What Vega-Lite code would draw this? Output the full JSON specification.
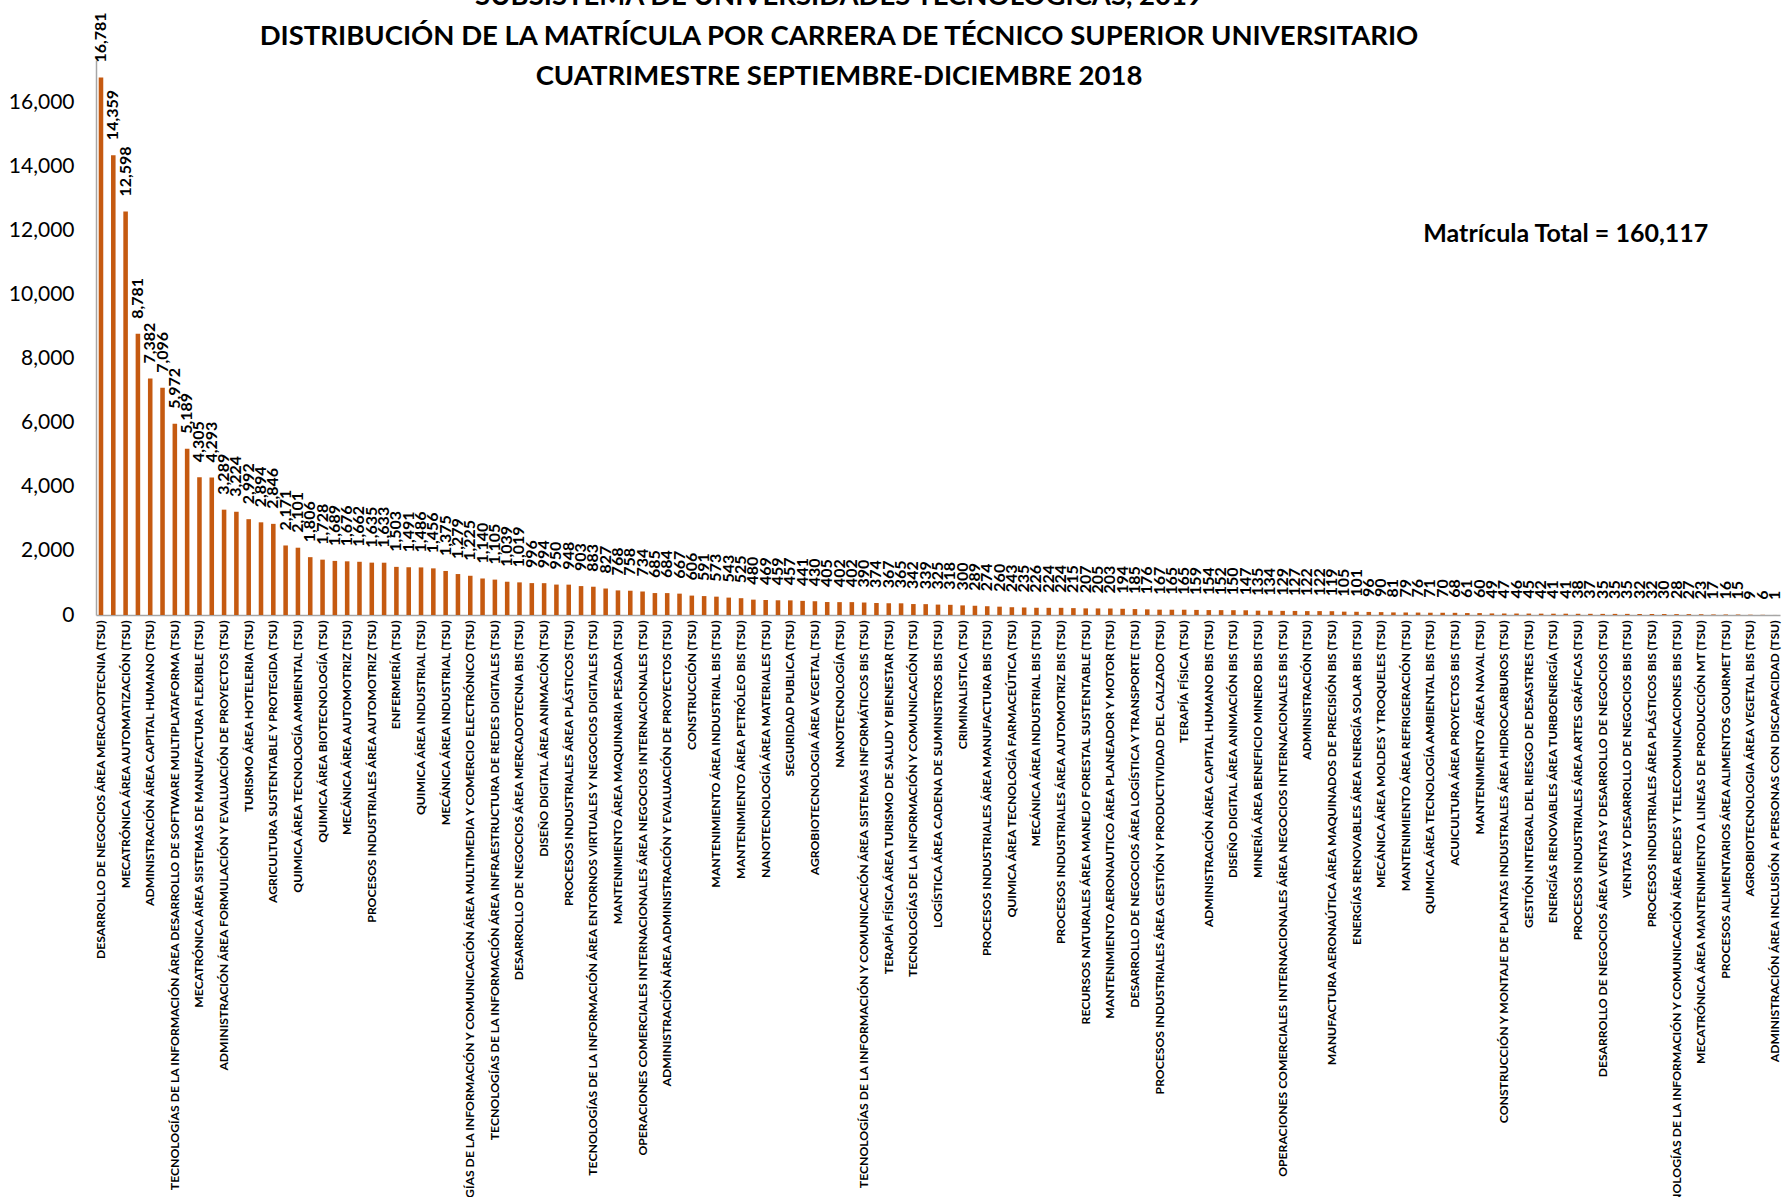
{
  "$schema": "https://vega.github.io/schema/vega-lite/v6.json",
  "width": 1684,
  "height": 555,
  "autosize": {"type": "none"},
  "padding": {"left": 96, "top": 60, "right": 8, "bottom": 582},
  "background": "white",
  "config": {"view": {"stroke": null}, "font": "Lato"},
  "title": {
    "text": ["SUBSISTEMA DE UNIVERSIDADES TECNOLÓGICAS, 2019", "DISTRIBUCIÓN DE LA MATRÍCULA POR CARRERA DE TÉCNICO SUPERIOR UNIVERSITARIO", "CUATRIMESTRE SEPTIEMBRE-DICIEMBRE 2018"],
    "font": "Lato",
    "fontSize": 27.5,
    "fontWeight": "bold",
    "color": "#000000",
    "lineHeight": 40,
    "anchor": "middle",
    "offset": 0,
    "dx": -99,
    "dy": 78
  },
  "data": {
    "values": [
      {"carrera": "DESARROLLO DE NEGOCIOS ÁREA MERCADOTECNIA (TSU)", "matricula": 16781},
      {"carrera": "s/e 002", "matricula": 14359},
      {"carrera": "MECATRÓNICA ÁREA AUTOMATIZACIÓN (TSU)", "matricula": 12598},
      {"carrera": "s/e 004", "matricula": 8781},
      {"carrera": "ADMINISTRACIÓN ÁREA CAPITAL HUMANO (TSU)", "matricula": 7382},
      {"carrera": "s/e 006", "matricula": 7096},
      {"carrera": "TECNOLOGÍAS DE LA INFORMACIÓN ÁREA DESARROLLO DE SOFTWARE MULTIPLATAFORMA (TSU)", "matricula": 5972},
      {"carrera": "s/e 008", "matricula": 5189},
      {"carrera": "MECATRÓNICA ÁREA SISTEMAS DE MANUFACTURA FLEXIBLE (TSU)", "matricula": 4305},
      {"carrera": "s/e 010", "matricula": 4293},
      {"carrera": "ADMINISTRACIÓN ÁREA FORMULACIÓN Y EVALUACIÓN DE PROYECTOS (TSU)", "matricula": 3289},
      {"carrera": "s/e 012", "matricula": 3224},
      {"carrera": "TURISMO ÁREA HOTELERIA (TSU)", "matricula": 2992},
      {"carrera": "s/e 014", "matricula": 2894},
      {"carrera": "AGRICULTURA SUSTENTABLE Y PROTEGIDA (TSU)", "matricula": 2846},
      {"carrera": "s/e 016", "matricula": 2171},
      {"carrera": "QUIMICA ÁREA TECNOLOGÍA AMBIENTAL (TSU)", "matricula": 2101},
      {"carrera": "s/e 018", "matricula": 1806},
      {"carrera": "QUIMICA ÁREA BIOTECNOLOGÍA (TSU)", "matricula": 1728},
      {"carrera": "s/e 020", "matricula": 1689},
      {"carrera": "MECÁNICA ÁREA AUTOMOTRIZ (TSU)", "matricula": 1676},
      {"carrera": "s/e 022", "matricula": 1662},
      {"carrera": "PROCESOS INDUSTRIALES ÁREA AUTOMOTRIZ (TSU)", "matricula": 1635},
      {"carrera": "s/e 024", "matricula": 1633},
      {"carrera": "ENFERMERÍA (TSU)", "matricula": 1503},
      {"carrera": "s/e 026", "matricula": 1491},
      {"carrera": "QUIMICA ÁREA INDUSTRIAL (TSU)", "matricula": 1486},
      {"carrera": "s/e 028", "matricula": 1456},
      {"carrera": "MECÁNICA ÁREA INDUSTRIAL (TSU)", "matricula": 1375},
      {"carrera": "s/e 030", "matricula": 1279},
      {"carrera": "TECNOLOGÍAS DE LA INFORMACIÓN Y COMUNICACIÓN ÁREA MULTIMEDIA Y COMERCIO ELECTRÓNICO (TSU)", "matricula": 1225},
      {"carrera": "s/e 032", "matricula": 1140},
      {"carrera": "TECNOLOGÍAS DE LA INFORMACIÓN ÁREA INFRAESTRUCTURA DE REDES DIGITALES (TSU)", "matricula": 1105},
      {"carrera": "s/e 034", "matricula": 1039},
      {"carrera": "DESARROLLO DE NEGOCIOS ÁREA MERCADOTECNIA BIS (TSU)", "matricula": 1019},
      {"carrera": "s/e 036", "matricula": 996},
      {"carrera": "DISEÑO DIGITAL ÁREA ANIMACIÓN (TSU)", "matricula": 994},
      {"carrera": "s/e 038", "matricula": 950},
      {"carrera": "PROCESOS INDUSTRIALES ÁREA PLÁSTICOS (TSU)", "matricula": 948},
      {"carrera": "s/e 040", "matricula": 903},
      {"carrera": "TECNOLOGÍAS DE LA INFORMACIÓN ÁREA ENTORNOS VIRTUALES Y NEGOCIOS DIGITALES (TSU)", "matricula": 883},
      {"carrera": "s/e 042", "matricula": 827},
      {"carrera": "MANTENIMIENTO ÁREA MAQUINARIA PESADA (TSU)", "matricula": 768},
      {"carrera": "s/e 044", "matricula": 758},
      {"carrera": "OPERACIONES COMERCIALES INTERNACIONALES ÁREA NEGOCIOS INTERNACIONALES (TSU)", "matricula": 734},
      {"carrera": "s/e 046", "matricula": 685},
      {"carrera": "ADMINISTRACIÓN ÁREA ADMINISTRACIÓN Y EVALUACIÓN DE PROYECTOS (TSU)", "matricula": 684},
      {"carrera": "s/e 048", "matricula": 667},
      {"carrera": "CONSTRUCCIÓN (TSU)", "matricula": 606},
      {"carrera": "s/e 050", "matricula": 591},
      {"carrera": "MANTENIMIENTO ÁREA INDUSTRIAL BIS (TSU)", "matricula": 573},
      {"carrera": "s/e 052", "matricula": 543},
      {"carrera": "MANTENIMIENTO ÁREA PETRÓLEO BIS (TSU)", "matricula": 525},
      {"carrera": "s/e 054", "matricula": 480},
      {"carrera": "NANOTECNOLOGÍA ÁREA MATERIALES (TSU)", "matricula": 469},
      {"carrera": "s/e 056", "matricula": 459},
      {"carrera": "SEGURIDAD PUBLICA (TSU)", "matricula": 457},
      {"carrera": "s/e 058", "matricula": 441},
      {"carrera": "AGROBIOTECNOLOGIA ÁREA VEGETAL (TSU)", "matricula": 430},
      {"carrera": "s/e 060", "matricula": 405},
      {"carrera": "NANOTECNOLOGÍA (TSU)", "matricula": 402},
      {"carrera": "s/e 062", "matricula": 402},
      {"carrera": "TECNOLOGÍAS DE LA INFORMACIÓN Y COMUNICACIÓN ÁREA SISTEMAS INFORMÁTICOS BIS (TSU)", "matricula": 390},
      {"carrera": "s/e 064", "matricula": 374},
      {"carrera": "TERAPÍA FÍSICA ÁREA TURISMO DE SALUD Y BIENESTAR (TSU)", "matricula": 367},
      {"carrera": "s/e 066", "matricula": 365},
      {"carrera": "TECNOLOGÍAS DE LA INFORMACIÓN Y COMUNICACIÓN (TSU)", "matricula": 342},
      {"carrera": "s/e 068", "matricula": 339},
      {"carrera": "LOGÍSTICA ÁREA CADENA DE SUMINISTROS BIS (TSU)", "matricula": 325},
      {"carrera": "s/e 070", "matricula": 318},
      {"carrera": "CRIMINALISTICA (TSU)", "matricula": 300},
      {"carrera": "s/e 072", "matricula": 289},
      {"carrera": "PROCESOS INDUSTRIALES ÁREA MANUFACTURA BIS (TSU)", "matricula": 274},
      {"carrera": "s/e 074", "matricula": 260},
      {"carrera": "QUIMICA ÁREA TECNOLOGÍA FARMACEÚTICA (TSU)", "matricula": 243},
      {"carrera": "s/e 076", "matricula": 235},
      {"carrera": "MECÁNICA ÁREA INDUSTRIAL BIS (TSU)", "matricula": 226},
      {"carrera": "s/e 078", "matricula": 224},
      {"carrera": "PROCESOS INDUSTRIALES ÁREA AUTOMOTRIZ BIS (TSU)", "matricula": 224},
      {"carrera": "s/e 080", "matricula": 215},
      {"carrera": "RECURSOS NATURALES ÁREA MANEJO FORESTAL SUSTENTABLE (TSU)", "matricula": 207},
      {"carrera": "s/e 082", "matricula": 205},
      {"carrera": "MANTENIMIENTO AERONAUTICO ÁREA PLANEADOR Y MOTOR (TSU)", "matricula": 203},
      {"carrera": "s/e 084", "matricula": 194},
      {"carrera": "DESARROLLO DE NEGOCIOS ÁREA LOGÍSTICA Y TRANSPORTE (TSU)", "matricula": 185},
      {"carrera": "s/e 086", "matricula": 176},
      {"carrera": "PROCESOS INDUSTRIALES ÁREA GESTIÓN Y PRODUCTIVIDAD DEL CALZADO (TSU)", "matricula": 167},
      {"carrera": "s/e 088", "matricula": 165},
      {"carrera": "TERAPÍA FÍSICA (TSU)", "matricula": 165},
      {"carrera": "s/e 090", "matricula": 159},
      {"carrera": "ADMINISTRACIÓN ÁREA CAPITAL HUMANO BIS (TSU)", "matricula": 154},
      {"carrera": "s/e 092", "matricula": 152},
      {"carrera": "DISEÑO DIGITAL ÁREA ANIMACIÓN BIS (TSU)", "matricula": 150},
      {"carrera": "s/e 094", "matricula": 147},
      {"carrera": "MINERÍA ÁREA BENEFICIO MINERO BIS (TSU)", "matricula": 135},
      {"carrera": "s/e 096", "matricula": 134},
      {"carrera": "OPERACIONES COMERCIALES INTERNACIONALES ÁREA NEGOCIOS INTERNACIONALES BIS (TSU)", "matricula": 129},
      {"carrera": "s/e 098", "matricula": 127},
      {"carrera": "ADMINISTRACIÓN (TSU)", "matricula": 122},
      {"carrera": "s/e 100", "matricula": 122},
      {"carrera": "MANUFACTURA AERONAÚTICA ÁREA MAQUINADOS DE PRECISIÓN BIS (TSU)", "matricula": 119},
      {"carrera": "s/e 102", "matricula": 105},
      {"carrera": "ENERGÍAS RENOVABLES ÁREA ENERGÍA SOLAR BIS (TSU)", "matricula": 101},
      {"carrera": "s/e 104", "matricula": 96},
      {"carrera": "MECÁNICA ÁREA MOLDES Y TROQUELES (TSU)", "matricula": 90},
      {"carrera": "s/e 106", "matricula": 81},
      {"carrera": "MANTENIMIENTO ÁREA REFRIGERACIÓN (TSU)", "matricula": 79},
      {"carrera": "s/e 108", "matricula": 76},
      {"carrera": "QUIMICA ÁREA TECNOLOGÍA AMBIENTAL BIS (TSU)", "matricula": 71},
      {"carrera": "s/e 110", "matricula": 70},
      {"carrera": "ACUICULTURA ÁREA PROYECTOS BIS (TSU)", "matricula": 68},
      {"carrera": "s/e 112", "matricula": 61},
      {"carrera": "MANTENIMIENTO ÁREA NAVAL (TSU)", "matricula": 60},
      {"carrera": "s/e 114", "matricula": 49},
      {"carrera": "CONSTRUCCIÓN Y MONTAJE DE PLANTAS INDUSTRALES ÁREA HIDROCARBUROS (TSU)", "matricula": 47},
      {"carrera": "s/e 116", "matricula": 46},
      {"carrera": "GESTIÓN INTEGRAL DEL RIESGO DE DESASTRES (TSU)", "matricula": 45},
      {"carrera": "s/e 118", "matricula": 42},
      {"carrera": "ENERGÍAS RENOVABLES ÁREA TURBOENERGÍA (TSU)", "matricula": 41},
      {"carrera": "s/e 120", "matricula": 41, "nota": "Matrícula Total = 160,117"},
      {"carrera": "PROCESOS INDUSTRIALES ÁREA ARTES GRÁFICAS (TSU)", "matricula": 38},
      {"carrera": "s/e 122", "matricula": 37},
      {"carrera": "DESARROLLO DE NEGOCIOS ÁREA VENTAS Y DESARROLLO DE NEGOCIOS (TSU)", "matricula": 35},
      {"carrera": "s/e 124", "matricula": 35},
      {"carrera": "VENTAS Y DESARROLLO DE NEGOCIOS BIS (TSU)", "matricula": 35},
      {"carrera": "s/e 126", "matricula": 32},
      {"carrera": "PROCESOS INDUSTRIALES ÁREA PLÁSTICOS BIS (TSU)", "matricula": 32},
      {"carrera": "s/e 128", "matricula": 30},
      {"carrera": "TECNOLOGÍAS DE LA INFORMACIÓN Y COMUNICACIÓN ÁREA REDES Y TELECOMUNICACIONES BIS (TSU)", "matricula": 28},
      {"carrera": "s/e 130", "matricula": 27},
      {"carrera": "MECATRÓNICA ÁREA MANTENIMIENTO A LINEAS DE PRODUCCIÓN MT (TSU)", "matricula": 23},
      {"carrera": "s/e 132", "matricula": 17},
      {"carrera": "PROCESOS ALIMENTARIOS ÁREA ALIMENTOS GOURMET (TSU)", "matricula": 16},
      {"carrera": "s/e 134", "matricula": 15},
      {"carrera": "AGROBIOTECNOLOGIA ÁREA VEGETAL BIS (TSU)", "matricula": 9},
      {"carrera": "s/e 136", "matricula": 6},
      {"carrera": "ADMINISTRACIÓN ÁREA INCLUSIÓN A PERSONAS CON DISCAPACIDAD (TSU)", "matricula": 1}
    ]
  },
  "encoding": {
    "x": {
      "field": "carrera",
      "type": "nominal",
      "sort": null,
      "scale": {"paddingInner": 0.63, "paddingOuter": 0.22},
      "axis": {
        "title": null,
        "labelAngle": 270,
        "labelFont": "Lato",
        "labelFontSize": 12.2,
        "labelFontWeight": "bold",
        "labelColor": "#000000",
        "labelPadding": 5,
        "labelLimit": 2000,
        "labelOverlap": false,
        "ticks": false,
        "domainColor": "#a6a6a6",
        "domainWidth": 1.5,
        "labelExpr": "indexof(datum.label, 's/e') == 0 ? '' : datum.label"
      }
    }
  },
  "layer": [
    {
      "mark": {"type": "bar", "color": "#C55A11"},
      "encoding": {
        "y": {
          "field": "matricula",
          "type": "quantitative",
          "scale": {"domain": [0, 17330], "nice": false},
          "axis": {
            "title": null,
            "values": [0, 2000, 4000, 6000, 8000, 10000, 12000, 14000, 16000],
            "format": ",d",
            "grid": false,
            "ticks": false,
            "labelFont": "Lato",
            "labelFontSize": 21,
            "labelColor": "#000000",
            "labelPadding": 22,
            "domainColor": "#a6a6a6",
            "domainWidth": 1.5
          }
        }
      }
    },
    {
      "mark": {"type": "text", "angle": 270, "align": "left", "baseline": "middle", "dx": 15, "font": "Lato", "fontWeight": "bold", "fontSize": 16, "color": "#000000"},
      "encoding": {
        "y": {"field": "matricula", "type": "quantitative"},
        "text": {"field": "matricula", "type": "quantitative", "format": ",d"}
      }
    },
    {
      "mark": {"type": "text", "font": "Lato", "fontWeight": "bold", "fontSize": 25, "color": "#000000"},
      "encoding": {
        "y": {"datum": 11910, "type": "quantitative"},
        "text": {"condition": {"test": "isValid(datum.nota)", "field": "nota"}, "value": ""}
      }
    }
  ]
}
